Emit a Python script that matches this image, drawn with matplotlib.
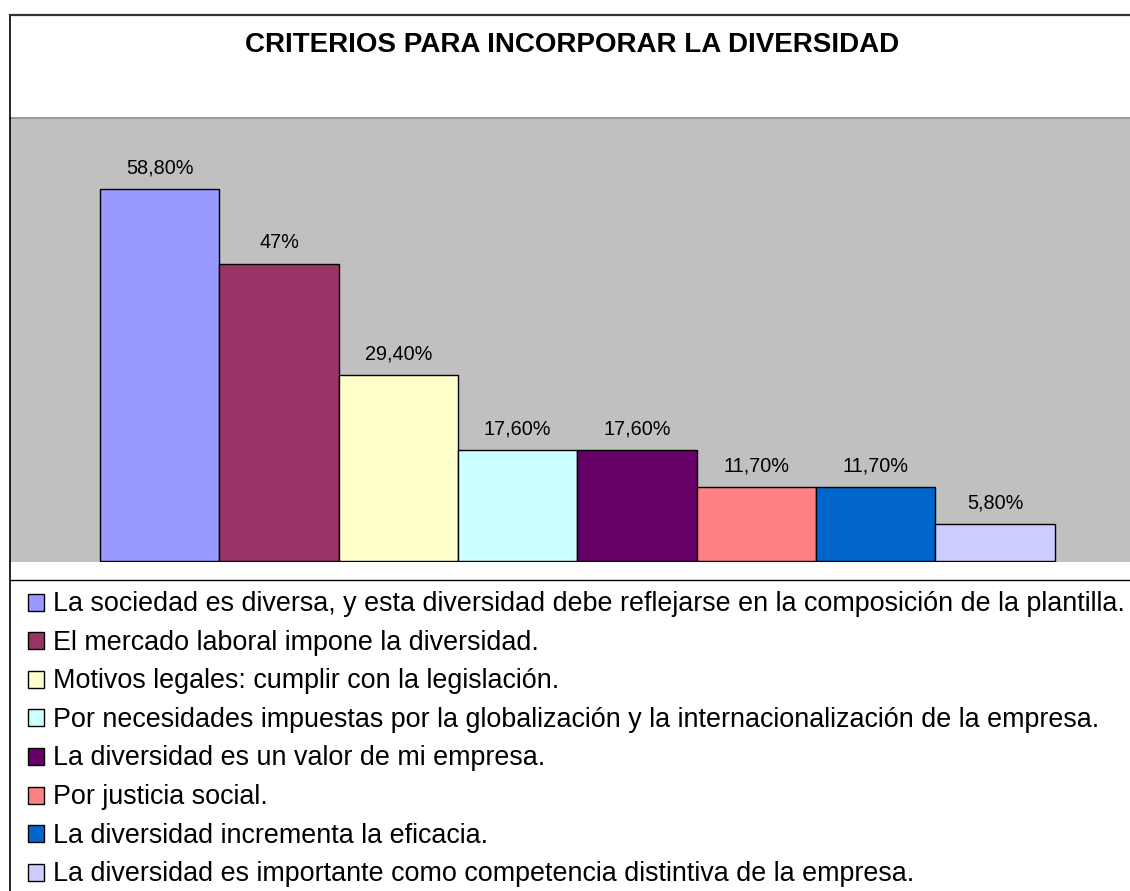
import matplotlib.pyplot as plt
from matplotlib.lines import Line2D
from matplotlib.patches import Rectangle

plt.rcParams['font.family'] = ['Liberation Sans', 'DejaVu Sans']

title = 'CRITERIOS PARA INCORPORAR LA DIVERSIDAD'
criterios = [
    'La sociedad es diversa, y esta diversidad debe reflejarse en la composición de la plantilla.',
    'El mercado laboral impone la diversidad.',
    'Motivos legales: cumplir con la legislación.',
    'Por necesidades impuestas por la globalización y la internacionalización de la empresa.',
    'La diversidad es un valor de mi empresa.',
    'Por justicia social.',
    'La diversidad incrementa la eficacia.',
    'La diversidad es importante como competencia distintiva de la empresa.',
]
valores = [58.8, 47.0, 29.4, 17.6, 17.6, 11.7, 11.7, 5.8]
etiquetas = ['58,80%', '47%', '29,40%', '17,60%', '17,60%', '11,70%', '11,70%', '5,80%']
colores = ['#9999FF', '#993366', '#FFFFCC', '#CCFFFF', '#660066', '#FF8080', '#0066CC', '#CCCCFF']

W, H = 1130, 891
fig = plt.figure(figsize=(W / 100, H / 100), dpi=100)


def fx(px):
    return px / W


def fy(py):
    return 1 - py / H


# plot area (grey)
ax = fig.add_axes([fx(10), fy(562), fx(1130) - fx(10), fy(118) - fy(562)])
ax.set_facecolor('#C0C0C0')
x = list(range(len(valores)))
bars = ax.bar(x, valores, width=1.0, align='edge', color=colores,
              edgecolor='black', linewidth=1.0)
for b, lab in zip(bars, etiquetas):
    ax.annotate(lab, (b.get_x() + b.get_width() / 2, b.get_height()),
                xytext=(0, 15), textcoords='offset points',
                ha='center', va='center', fontsize=14.3)
ax.set_xlim(-0.754, 8.63)
ax.set_ylim(-0.16, 70)
ax.set_xticks([])
ax.set_yticks([])
for s in ['left', 'right', 'bottom']:
    ax.spines[s].set_visible(False)
ax.spines['top'].set_color('#999999')
ax.spines['top'].set_linewidth(1.5)

fig.text(fx(572), fy(45), title, ha='center', va='center',
         fontsize=20, fontweight='bold')

# borders
fig.add_artist(Line2D([fx(10), fx(10)], [fy(15), 0], color='black', lw=1.2))
fig.add_artist(Line2D([fx(10), 1], [fy(15), fy(15)], color='#333333', lw=1.6))
fig.add_artist(Line2D([fx(10), 1], [fy(580), fy(580)], color='black', lw=1.0))

# legend
y0, paso = 602, 38.6
for i, (txt, c) in enumerate(zip(criterios, colores)):
    yc = y0 + i * paso
    fig.add_artist(Rectangle((fx(28), fy(yc + 8.5)), fx(16), fy(yc - 8.5) - fy(yc + 8.5),
                             facecolor=c, edgecolor='black', lw=1.0))
    fig.text(fx(53), fy(yc + 2), txt, ha='left', va='center', fontsize=19.4)

fig.savefig('out.png', dpi=100)
